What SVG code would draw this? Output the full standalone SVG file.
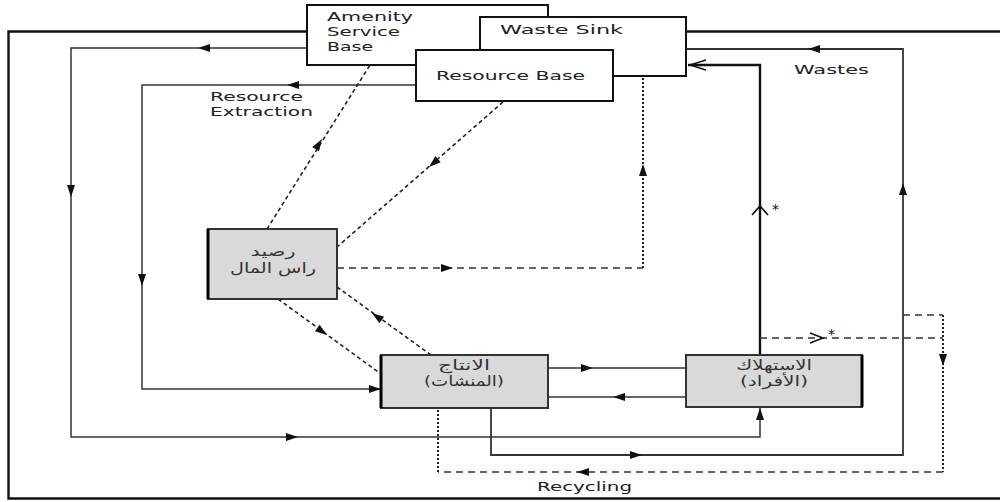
<svg xmlns="http://www.w3.org/2000/svg" xmlns:xlink="http://www.w3.org/1999/xlink" width="1000" height="502" viewBox="0 0 1000 502">
<style>
.ln{fill:none;stroke:#333;stroke-width:1.5}
.thk{fill:none;stroke:#111;stroke-width:2.4}
.dsh{fill:none;stroke:#333;stroke-width:1.4;stroke-dasharray:7,5}
.dia{fill:none;stroke:#222;stroke-width:1.6;stroke-dasharray:4,3}
.dot{fill:none;stroke:#222;stroke-width:2;stroke-dasharray:2,2}
.opn{fill:none;stroke:#111;stroke-width:1.5}
.box{fill:#fff;stroke:#111;stroke-width:2}
.gbox{fill:#d9d9d9;stroke:#333;stroke-width:2}
.en{font-family:"DejaVu Sans",Verdana,sans-serif;font-size:13px;fill:#222}
.ar{font-family:"DejaVu Sans","Noto Sans",sans-serif;font-size:14px;fill:#333;text-anchor:middle}
.st{font-family:"DejaVu Sans",sans-serif;font-size:14px;fill:#111}
.ah{fill:#111}
</style>
<defs>
<path id="ah" d="M0,0 L-12,-4 L-12,4 Z"/>
</defs>
<rect width="1000" height="502" fill="#fff"/>
<g id="frame">
<path class="thk" d="M307,31.5 H8.5 V498.5 H1000"/>
<path class="thk" d="M686,31.5 H1000"/>
</g>
<g id="connectors">
<path class="ln" d="M307,48 H71 V437 H760 V408"/>
<use xlink:href="#ah" class="ah" transform="translate(198,48) rotate(180)"/>
<use xlink:href="#ah" class="ah" transform="translate(71,197) rotate(90)"/>
<use xlink:href="#ah" class="ah" transform="translate(298,437)"/>
<use xlink:href="#ah" class="ah" transform="translate(760,408) rotate(-90)"/>
<path class="ln" d="M416,85 H142 V389 H381"/>
<use xlink:href="#ah" class="ah" transform="translate(287,85) rotate(180)"/>
<use xlink:href="#ah" class="ah" transform="translate(142,286) rotate(90)"/>
<use xlink:href="#ah" class="ah" transform="translate(381,389)"/>
<path class="ln" d="M548,368 H686"/>
<use xlink:href="#ah" class="ah" transform="translate(593,368)"/>
<path class="ln" d="M686,397 H548"/>
<use xlink:href="#ah" class="ah" transform="translate(613,397) rotate(180)"/>
<path class="ln" d="M491,408 V455 H903 V49 H686" style="stroke-width:1.8"/>
<use xlink:href="#ah" class="ah" transform="translate(642,455)"/>
<use xlink:href="#ah" class="ah" transform="translate(903,183) rotate(-90)"/>
<use xlink:href="#ah" class="ah" transform="translate(808,49) rotate(180)"/>
<path class="thk" d="M760,355 V65 H688"/>
<path class="opn" d="M706,60 L690,65 L706,70"/>
<path class="opn" d="M752,215 L760,206 L768,215" style="stroke-width:1.8"/>
<path class="dsh" d="M760,338 H943"/>
<path class="opn" d="M810,333 L823,338 L810,343"/>
<path class="dsh" d="M903,315 H943"/>
<path class="dot" d="M943,315 V472"/>
<path class="dsh" d="M943,472 H438"/>
<path class="dot" d="M438,472 V408"/>
<use xlink:href="#ah" class="ah" transform="translate(943,366) rotate(90)"/>
<use xlink:href="#ah" class="ah" transform="translate(577,472) rotate(180)"/>
<path class="dia" d="M267,229 L370,65"/>
<use xlink:href="#ah" class="ah" transform="translate(322,139) rotate(-57.9)"/>
<path class="dia" d="M503,102 L337,247"/>
<use xlink:href="#ah" class="ah" transform="translate(429,167) rotate(138.9)"/>
<path class="dsh" d="M337,268 H643"/>
<use xlink:href="#ah" class="ah" transform="translate(453,268)"/>
<path class="dot" d="M643,268 V76"/>
<use xlink:href="#ah" class="ah" transform="translate(643,164) rotate(-90)"/>
<path class="dia" d="M278,299 L381,374"/>
<use xlink:href="#ah" class="ah" transform="translate(327,335) rotate(36)"/>
<path class="dia" d="M431,355 L337,287"/>
<use xlink:href="#ah" class="ah" transform="translate(372,313) rotate(215.9)"/>
<text class="en" x="210" y="101" textLength="93" lengthAdjust="spacingAndGlyphs">Resource</text>
<text class="en" x="210" y="116" textLength="103" lengthAdjust="spacingAndGlyphs">Extraction</text>
<text class="en" x="794" y="74" textLength="75" lengthAdjust="spacingAndGlyphs">Wastes</text>
<text class="en" x="537" y="491" textLength="95" lengthAdjust="spacingAndGlyphs">Recycling</text>
<text class="st" x="772" y="214">*</text>
<text class="st" x="828" y="339">*</text>
</g>
<g id="amenity">
<rect class="box" x="307" y="5" width="241" height="60"/>
<text class="en" x="327" y="21" textLength="86" lengthAdjust="spacingAndGlyphs">Amenity</text>
<text class="en" x="327" y="36" textLength="73" lengthAdjust="spacingAndGlyphs">Service</text>
<text class="en" x="327" y="51" textLength="46" lengthAdjust="spacingAndGlyphs">Base</text>
</g>
<g id="waste-sink">
<rect class="box" x="480" y="17" width="206" height="59"/>
<text class="en" x="500" y="34" textLength="123" lengthAdjust="spacingAndGlyphs">Waste Sink</text>
</g>
<g id="resource-base">
<rect class="box" x="416" y="50" width="197" height="51"/>
<text class="en" x="436" y="80" textLength="149" lengthAdjust="spacingAndGlyphs">Resource Base</text>
</g>
<g id="capital">
<rect class="gbox" x="208" y="229" width="129" height="70"/>
<path d="M208,229 V299" stroke="#000" stroke-width="3"/>
<text class="ar" x="273" y="256" textLength="45" lengthAdjust="spacingAndGlyphs">رصيد</text>
<text class="ar" x="273" y="273" textLength="86" lengthAdjust="spacingAndGlyphs">راس المال</text>
</g>
<g id="production">
<rect class="gbox" x="381" y="355" width="167" height="53"/>
<path d="M381,355 V408" stroke="#000" stroke-width="3"/>
<text class="ar" x="464" y="370" textLength="52" lengthAdjust="spacingAndGlyphs">الانتاج</text>
<text class="ar" x="464" y="386" textLength="80" lengthAdjust="spacingAndGlyphs">(المنشات)</text>
</g>
<g id="consumption">
<rect class="gbox" x="686" y="355" width="176" height="52"/>
<path d="M862,355 V407" stroke="#000" stroke-width="3"/>
<text class="ar" x="774" y="370" textLength="76" lengthAdjust="spacingAndGlyphs">الاستهلاك</text>
<text class="ar" x="774" y="386" textLength="68" lengthAdjust="spacingAndGlyphs">(الأفراد)</text>
</g>
</svg>
